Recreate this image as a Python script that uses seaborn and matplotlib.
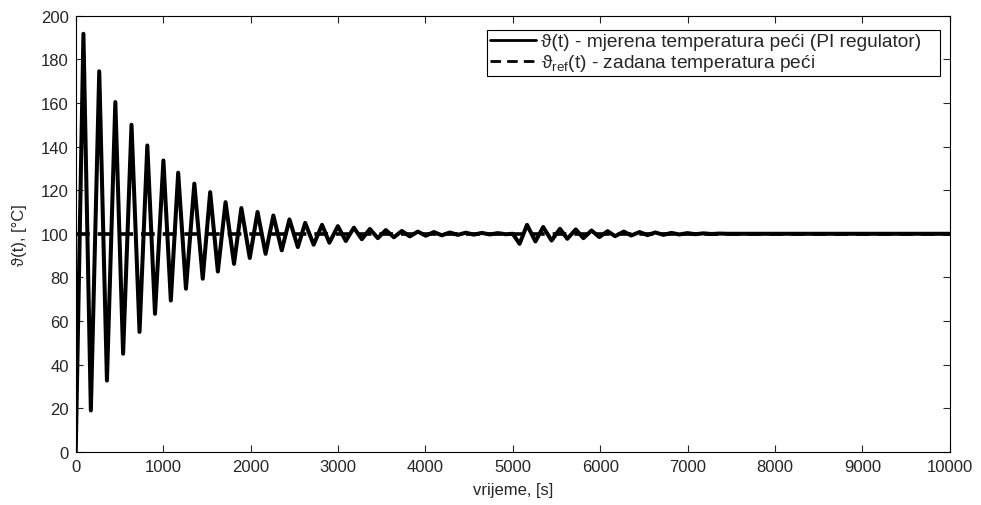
import numpy as np
import pandas as pd
import matplotlib
matplotlib.use('Agg')
import matplotlib.pyplot as plt
import seaborn as sns

# ekstremi mjerene temperature (ocitano sa slike)
t_ext = [0, 88, 173, 269, 357, 453, 542, 638, 730, 819, 907, 1003, 1088, 1172,
         1261, 1357, 1453, 1538, 1626, 1714, 1811, 1895, 1991, 2080, 2172, 2261,
         2357, 2445, 2541, 2625, 2722, 2818, 2902, 2999, 3090, 3182, 3273, 3365,
         3456, 3548, 3640, 3731, 3822, 3914, 4005, 4097, 4188, 4280, 4371, 4463,
         4554, 4646, 4737, 4829, 4920, 5000, 5078, 5163, 5259, 5348, 5444, 5540,
         5624, 5721, 5808, 5901, 5990, 6085, 6171, 6270, 6355, 6451, 6540, 6632,
         6723, 6815, 6906, 6998, 7089, 7181, 7272, 7364, 7455, 10000]
v_ext = [0, 191.7, 19.0, 174.5, 32.7, 160.4, 45.0, 150.0, 55.0, 140.5, 63.3, 133.6,
         69.4, 128.0, 74.8, 123.0, 79.4, 119.1, 82.7, 114.5, 86.2, 111.8, 88.9,
         110.0, 90.8, 108.4, 92.4, 106.6, 93.9, 105.0, 95.0, 104.1, 95.9, 103.5,
         96.7, 102.8, 97.5, 102.2, 98.0, 101.7, 98.4, 101.3, 98.8, 101.0, 99.1,
         100.8, 99.3, 100.6, 99.5, 100.5, 99.6, 100.4, 99.7, 100.3, 99.8, 100.0,
         95.4, 104.1, 96.5, 103.1, 96.9, 102.3, 97.7, 102.0, 98.0, 101.5, 98.5,
         101.2, 98.9, 101.0, 99.2, 100.8, 99.4, 100.6, 99.5, 100.4, 99.7, 100.3,
         99.8, 100.2, 99.9, 100.1, 100.0, 100.0]

# zadana temperatura
t_ref = [0, 10000]
v_ref = [100, 100]

lbl_mjer = 'ϑ(t) - mjerena temperatura peći (PI regulator)   '
lbl_ref = 'ϑ$_{ref}$(t) - zadana temperatura peći'

sns.set_style('ticks')
plt.rcParams['font.family'] = ['Liberation Sans Narrow', 'Liberation Sans', 'DejaVu Sans']
plt.rcParams['mathtext.default'] = 'regular'
plt.rcParams['xtick.direction'] = 'in'
plt.rcParams['ytick.direction'] = 'in'

df = pd.DataFrame({'t': t_ext, 'v': v_ext})
df_ref = pd.DataFrame({'t': t_ref, 'v': v_ref})

fig = plt.figure(figsize=(9.81, 5.06), dpi=100)
ax = fig.add_axes([0.0772, 0.105, 0.891, 0.862])

sns.lineplot(data=df, x='t', y='v', ax=ax, color='black', linewidth=2.9,
             estimator=None, sort=False, label=lbl_mjer,
             solid_joinstyle='round', solid_capstyle='round')
sns.lineplot(data=df_ref, x='t', y='v', ax=ax, color='black', linewidth=2.6,
             linestyle=(0, (3.8, 2.2)), estimator=None, label=lbl_ref)

ax.set_xlim(0, 10000)
ax.set_ylim(0, 200)
ax.set_xticks(np.arange(0, 10001, 1000))
ax.set_yticks(np.arange(0, 201, 20))
ax.tick_params(labelsize=12, length=5, width=0.8, top=True, right=True, pad=5)
for s in ax.spines.values():
    s.set_linewidth(0.8)
    s.set_color('black')

ax.set_xlabel('vrijeme, [s]', fontsize=12, labelpad=6)
ax.set_ylabel('ϑ(t), [°C]', fontsize=12, labelpad=10)

leg = ax.legend(loc='upper right', bbox_to_anchor=(0.989, 0.967), borderaxespad=0,
                fontsize=13.8, frameon=True, fancybox=False, framealpha=1,
                edgecolor='black', handlelength=2.4, handletextpad=0.27,
                labelspacing=0.1, borderpad=0.15)
leg.get_frame().set_linewidth(0.8)
for h in leg.get_lines():
    h.set_linewidth(2.0)

fig.savefig('out.png', dpi=100, facecolor='white')
